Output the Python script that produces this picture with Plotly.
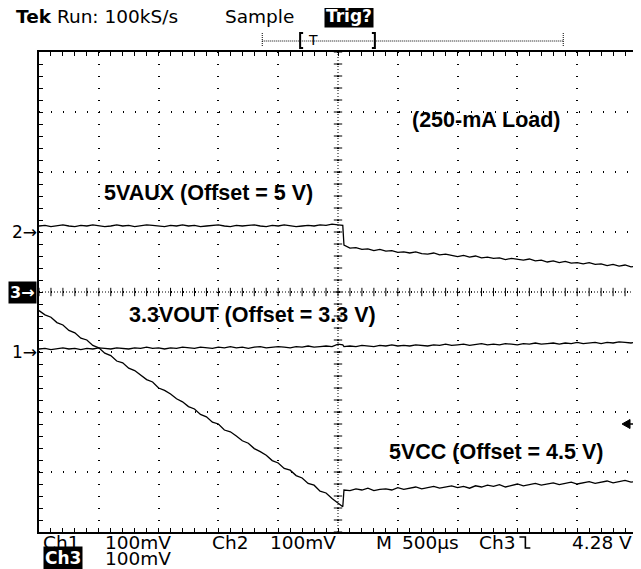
import plotly.graph_objects as go
import numpy as np

# ---------------- data (read from the scope screen) ----------------
# sample times in ms (trigger at 0, 500 us/div, 10 div)
t_pre = [round(-2.5 + 0.05 * i, 2) for i in range(51)]
t_post = [round(0.05 * i, 2) for i in range(1, 51)]
t_ms = t_pre + [0.04] + t_post

# Ch2: 5VAUX (offset 5 V), mV relative to its ground marker
ch2_mv = [10, 11, 9, 11, 12, 10, 9, 11, 10, 12,
          11, 9, 10, 12, 10, 11, 9, 10, 12, 11,
          10, 9, 11, 10, 12, 10, 11, 9, 10, 11,
          12, 10, 9, 11, 10, 11, 12, 10, 9, 11,
          10, 12, 11, 9, 10, 11, 10, 12, 11, 13, 12,
          11,
          -22, -27, -26, -29, -28, -31, -29, -32, -31, -34,
          -33, -35, -33, -36, -37, -35, -38, -37, -39, -41,
          -39, -42, -40, -43, -42, -44, -43, -46, -44, -46,
          -47, -45, -48, -47, -50, -48, -51, -49, -52, -51,
          -53, -51, -54, -53, -56, -54, -57, -55, -58, -57]

# Ch1: 3.3VOUT (offset 3.3 V)
ch1_mv = [5, 6, 4, 5, 7, 5, 6, 4, 6, 5,
          7, 6, 5, 7, 6, 5, 7, 6, 8, 6,
          7, 5, 7, 6, 8, 7, 6, 8, 7, 6,
          8, 7, 9, 7, 8, 6, 8, 9, 7, 8,
          9, 8, 7, 9, 8, 10, 8, 9, 10, 9, 13,
          12,
          9, 10, 9, 11, 10, 9, 11, 10, 12, 10,
          11, 10, 12, 11, 10, 12, 11, 13, 11, 12,
          13, 11, 12, 14, 12, 13, 12, 14, 13, 12,
          14, 13, 15, 13, 14, 15, 13, 15, 14, 16,
          14, 15, 16, 14, 16, 15, 17, 16, 15, 17]

# Ch3: 5VCC (offset 4.5 V)
ch3_mv = [-31, -38, -42, -51, -55, -64, -68, -77, -80, -89,
          -93, -102, -106, -115, -118, -127, -131, -138, -146, -150,
          -160, -164, -170, -178, -183, -191, -195, -204, -208, -217,
          -220, -230, -233, -240, -248, -252, -261, -266, -272, -281,
          -285, -294, -297, -306, -310, -319, -322, -332, -335, -344, -352,
          -358,
          -330, -331, -328, -330, -327, -331, -329, -328, -330, -326,
          -329, -327, -325, -328, -326, -324, -327, -325, -323, -326,
          -324, -327, -323, -325, -322, -324, -321, -325, -322, -320,
          -323, -321, -319, -322, -320, -318, -321, -319, -317, -320,
          -318, -316, -319, -317, -315, -318, -316, -314, -317, -315]

channels = ["Ch1", "Ch2", "Ch3"]
ch_marker_div = [-1, 1, 0]          # ground-reference markers (divisions)
ch_mv_per_div = [100, 100, 100]
trig_level_v = 4.28
ch3_offset_v = 4.5

time_per_div_ms = 0.5
n_xdiv, n_ydiv = 10, 8

# ---------------- layout geometry (page pixels) ----------------
PAGE_OFF = 8                       # default body margin of the html page
PAGE_W, PAGE_H = 641, 569
L, T, PW, PH = 39, 52, 600, 480    # plot area on the page
W, H = PAGE_W - PAGE_OFF, PAGE_H - PAGE_OFF
ML, MT = L - PAGE_OFF, T - PAGE_OFF
MB = H - MT - PH
MR = W - ML - PW

def px(x):
    return (x - L) / PW

def py(y):
    return (T + PH - y) / PH

UI = "DejaVu Sans, Liberation Sans, sans-serif"
LBL = "Liberation Sans, Arial, sans-serif"

fig = go.Figure()

def div_of(mv, ch):
    return [ch_marker_div[ch] + v / ch_mv_per_div[ch] for v in mv]

for ch, mv in [(1, ch2_mv), (0, ch1_mv), (2, ch3_mv)]:
    fig.add_trace(go.Scatter(x=t_ms, y=div_of(mv, ch), mode="lines",
                             line=dict(color="black", width=1.3),
                             hoverinfo="skip", showlegend=False))

# centre cross ticks
xhalf = n_xdiv / 2 * time_per_div_ms
yt = np.round(np.arange(-n_ydiv / 2, n_ydiv / 2 + 1e-9, 0.2), 3)
xt = np.round(np.arange(-xhalf, xhalf + 1e-9, time_per_div_ms / 5), 3)
fig.add_trace(go.Scatter(x=np.zeros_like(yt), y=yt, mode="markers",
                         marker=dict(symbol="line-ew", size=6,
                                     line=dict(color="black", width=1)),
                         hoverinfo="skip", showlegend=False))
fig.add_trace(go.Scatter(x=xt, y=np.zeros_like(xt), mode="markers",
                         marker=dict(symbol="line-ns", size=6,
                                     line=dict(color="black", width=1)),
                         hoverinfo="skip", showlegend=False))

# trigger level arrow (Ch3)
trig_div = ch_marker_div[2] + (trig_level_v - ch3_offset_v) * 1000 / ch_mv_per_div[2]

shapes = [
    dict(type="line", xref="x", yref="y", x0=0, x1=0, y0=-4, y1=4,
         line=dict(color="black", width=1, dash="1px,2px")),
    dict(type="line", xref="x", yref="y", x0=-xhalf, x1=xhalf, y0=0, y1=0,
         line=dict(color="black", width=1, dash="1px,2px")),
    # trigger-level pointer
    dict(type="path", xref="paper", yref="y",
         path=f"M {px(624)},{trig_div} L {px(632)},{trig_div + 0.075} L {px(632)},{trig_div - 0.075} Z",
         fillcolor="black", line=dict(color="black", width=1)),
    dict(type="line", xref="paper", yref="y", x0=px(632), x1=px(639), y0=trig_div, y1=trig_div,
         line=dict(color="black", width=1.5)),
    # record ruler
    dict(type="line", xref="paper", yref="paper", x0=px(263), x1=px(565), y0=py(41), y1=py(41),
         line=dict(color="black", width=1, dash="1px,1px")),
    dict(type="line", xref="paper", yref="paper", x0=px(263), x1=px(263), y0=py(33), y1=py(47),
         line=dict(color="black", width=1, dash="1px,1px")),
    dict(type="line", xref="paper", yref="paper", x0=px(565), x1=px(565), y0=py(33), y1=py(47),
         line=dict(color="black", width=1, dash="1px,1px")),
    dict(type="path", xref="paper", yref="paper",
         path=f"M {px(304)},{py(33)} L {px(301)},{py(33)} L {px(301)},{py(48)} L {px(304)},{py(48)}",
         line=dict(color="black", width=2)),
    dict(type="path", xref="paper", yref="paper",
         path=f"M {px(373)},{py(33)} L {px(376)},{py(33)} L {px(376)},{py(48)} L {px(373)},{py(48)}",
         line=dict(color="black", width=2)),
    # falling-edge trigger slope icon
    dict(type="path", xref="paper", yref="paper",
         path=f"M {px(521)},{py(537)} L {px(527)},{py(537)} L {px(527)},{py(548)} L {px(532)},{py(548)}",
         line=dict(color="black", width=1.6)),
]

def txt(text, x, y, size, family=UI, anchor="left", color="black", bg=None, bold=False):
    d = dict(text=f"<b>{text}</b>" if bold else text, x=px(x), y=py(y),
             xref="paper", yref="paper", xanchor=anchor, yanchor="middle",
             showarrow=False, font=dict(family=family, size=size, color=color),
             borderpad=0)
    if bg:
        d["bgcolor"] = bg
        d["borderpad"] = 1
    return d

FS = 18.5
ann = [
    txt("<b>Tek</b> Run: 100kS/s", 15, 16, FS),
    txt("Sample", 225, 16, FS),
    txt("Trig?", 325, 16, 17, color="white", bg="black", bold=True),
    txt("T", 314, 40, 14, anchor="center"),
    # in-plot labels
    txt("(250-mA Load)", 412, 120, 21.5, family=LBL, bold=True),
    txt("5VAUX (Offset = 5 V)", 103, 193, 21.5, family=LBL, bold=True),
    txt("3.3VOUT (Offset = 3.3 V)", 128, 315, 21.5, family=LBL, bold=True),
    txt("5VCC (Offset = 4.5 V)", 389, 452, 21.5, family=LBL, bold=True),
    # channel markers
    txt("2\u2192", 38, 232, 17, anchor="right"),
    txt("1\u2192", 38, 352, 17, anchor="right"),
    txt("3\u2192", 37, 292, 16, anchor="right", color="white", bg="black", bold=True),
    # bottom readout
    txt("Ch1", 42, 542, FS),
    txt("100mV", 104, 542, FS),
    txt("Ch2", 212, 542, FS),
    txt("100mV", 270, 542, FS),
    txt("M", 376, 542, FS),
    txt("500\u00b5s", 402, 542, FS),
    txt("Ch3", 479, 542, FS),
    txt("4.28 V", 573, 542, FS),
    txt("Ch3", 43, 558, 17, color="white", bg="black", bold=True),
    txt("100mV", 104, 558, FS),
]

axis_common = dict(showline=True, linecolor="black", linewidth=2, mirror="ticks",
                   ticks="inside", ticklen=4, tickwidth=1, tickcolor="black",
                   showticklabels=False, zeroline=False,
                   showgrid=True, gridcolor="black", gridwidth=1.5, griddash="1px,11px")

fig.update_layout(
    width=W, height=H,
    margin=dict(l=ML, r=MR, t=MT, b=MB, pad=0),
    paper_bgcolor="white", plot_bgcolor="white",
    xaxis=dict(range=[-xhalf, xhalf], tick0=-xhalf, dtick=time_per_div_ms,
               minor=dict(dtick=time_per_div_ms / 5, ticks="inside", ticklen=4,
                          tickcolor="black", showgrid=False),
               **axis_common),
    yaxis=dict(range=[-n_ydiv / 2, n_ydiv / 2], tick0=-n_ydiv / 2, dtick=1,
               minor=dict(dtick=0.2, ticks="inside", ticklen=4,
                          tickcolor="black", showgrid=False),
               **axis_common),
    shapes=shapes,
    annotations=ann,
    showlegend=False,
)

fig.write_html("out.html")
